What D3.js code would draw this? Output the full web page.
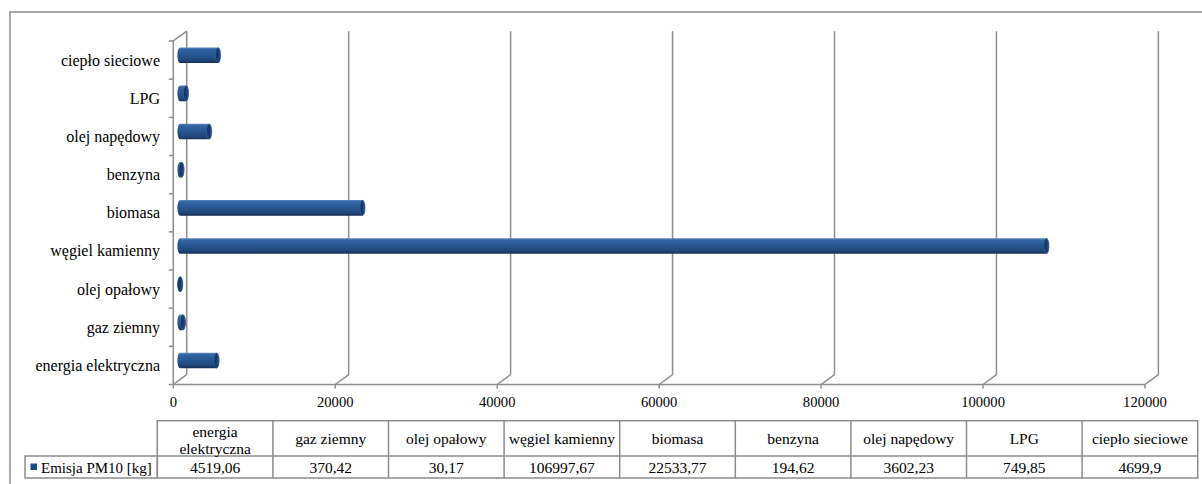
<!DOCTYPE html>
<html>
<head>
<meta charset="utf-8">
<script src="https://cdn.jsdelivr.net/npm/d3@7"></script>
<style>
  html, body { margin: 0; padding: 0; background: #fff; }
  svg { display: block; }
  text { font-family: "Liberation Serif", "Times New Roman", serif; fill: #000; }
</style>
</head>
<body>
<svg id="chart" width="1202" height="484"></svg>
<script>
// Emisja PM10 by energy carrier
const categories = ["energia elektryczna", "gaz ziemny", "olej opałowy", "węgiel kamienny",
                    "biomasa", "benzyna", "olej napędowy", "LPG", "ciepło sieciowe"];
const values = [4519.06, 370.42, 30.17, 106997.67, 22533.77, 194.62, 3602.23, 749.85, 4699.9];
const tickValues = [0, 20000, 40000, 60000, 80000, 100000, 120000];
const seriesName = "Emisja PM10 [kg]";

const svg = d3.select("#chart");
const gridColor = "#8e8e8e";
const barColor = "#1f4a82";

// outer frame
svg.append("rect")
  .attr("x", 10).attr("y", 12).attr("width", 1220).attr("height", 500)
  .attr("fill", "none").attr("stroke", "#a8a8a8").attr("stroke-width", 2);

// 3D plot geometry: front plane and depth offset to the back wall
const depth = { dx: 13.4, dy: -9.8 };
const x = d3.scaleLinear().domain([0, 120000]).range([173.3, 1145]);
const y = d3.scaleBand().domain(categories).range([384.5, 41]).paddingInner(0).paddingOuter(0);
const front = { top: 41, bottom: 384.5 };

const defs = svg.append("defs");
const bodyGrad = defs.append("linearGradient").attr("id", "cylBody")
  .attr("x1", 0).attr("y1", 0).attr("x2", 0).attr("y2", 1);
[[0, "#5d89c2"], [0.12, "#3465a3"], [0.45, "#285793"], [0.8, "#20487a"], [1, "#142f54"]]
  .forEach(([o, c]) => bodyGrad.append("stop").attr("offset", o).attr("stop-color", c));
const capGrad = defs.append("linearGradient").attr("id", "cylCap")
  .attr("x1", 0).attr("y1", 0).attr("x2", 1).attr("y2", 0);
[[0, "#13305a"], [0.6, "#1c3f6e"], [1, "#2c5a94"]]
  .forEach(([o, c]) => capGrad.append("stop").attr("offset", o).attr("stop-color", c));

const grid = svg.append("g").attr("fill", "none").attr("stroke", gridColor).attr("stroke-width", 1.5);

// back-wall vertical gridlines
grid.selectAll("line.v").data(tickValues).join("line").attr("class", "v")
  .attr("x1", d => x(d) + depth.dx).attr("x2", d => x(d) + depth.dx)
  .attr("y1", front.top + depth.dy).attr("y2", front.bottom + depth.dy);

// floor diagonals from front ticks to the back wall
grid.selectAll("line.d").data(tickValues).join("line").attr("class", "d")
  .attr("x1", d => x(d)).attr("y1", front.bottom)
  .attr("x2", d => x(d) + depth.dx).attr("y2", front.bottom + depth.dy);

// small ticks below the value axis
grid.selectAll("line.t").data(tickValues).join("line").attr("class", "t")
  .attr("x1", d => x(d)).attr("x2", d => x(d))
  .attr("y1", front.bottom).attr("y2", front.bottom + 4);

// front value axis line
grid.append("line")
  .attr("x1", x(0)).attr("x2", x(120000)).attr("y1", front.bottom).attr("y2", front.bottom);

// front category axis line with its top diagonal
grid.append("path")
  .attr("d", `M${x(0)},${front.bottom}V${front.top}L${x(0) + depth.dx},${front.top + depth.dy}`);

// category boundary ticks
const boundaries = categories.map(c => y(c) + y.bandwidth()).concat([y(categories[categories.length - 1])]);
grid.selectAll("line.c").data(boundaries).join("line").attr("class", "c")
  .attr("x1", x(0) - 4.5).attr("x2", x(0)).attr("y1", d => d).attr("y2", d => d);

// category labels
svg.append("g").selectAll("text").data(categories).join("text")
  .attr("x", 160).attr("y", d => y(d) + y.bandwidth() / 2)
  .attr("text-anchor", "end").attr("dominant-baseline", "central")
  .attr("font-size", 16).text(d => d);

// value tick labels
svg.append("g").selectAll("text").data(tickValues).join("text")
  .attr("x", d => x(d)).attr("y", 402)
  .attr("text-anchor", "middle").attr("dominant-baseline", "central")
  .attr("font-size", 14.6).text(d => String(d));

// cylinders sit halfway into the depth of the plot
const barH = 15.6, rx = 2.6, ry = barH / 2;
const bars = svg.append("g");
categories.forEach((c, i) => {
  const v = values[i];
  const xs = x(0) + depth.dx / 2;
  const xe = x(v) + depth.dx / 2;
  const cy = y(c) + y.bandwidth() / 2 + depth.dy / 2;
  const top = cy - ry, bot = cy + ry;
  bars.append("path")
    .attr("d", `M${xs},${top}L${xe},${top}A${rx},${ry} 0 0 1 ${xe},${bot}L${xs},${bot}A${rx},${ry} 0 0 1 ${xs},${top}Z`)
    .attr("fill", "url(#cylBody)");
  bars.append("ellipse")
    .attr("cx", xe).attr("cy", cy).attr("rx", rx).attr("ry", ry - 0.3)
    .attr("fill", "url(#cylCap)").attr("stroke", "#3a68a3").attr("stroke-width", 0.6);
});

// data table below the chart
const table = { left: 25, colStart: 157.3, colW: 115.6, top: 420.7, mid: 456, bottom: 478 };
const tbl = svg.append("g");
const cellStroke = "#8c8c8c";
const colX = i => table.colStart + i * table.colW;

tbl.append("rect")
  .attr("x", table.colStart).attr("y", table.top)
  .attr("width", table.colW * categories.length).attr("height", table.bottom - table.top)
  .attr("fill", "none").attr("stroke", cellStroke).attr("stroke-width", 1.5);
tbl.append("rect")
  .attr("x", table.left).attr("y", table.mid)
  .attr("width", table.colStart - table.left).attr("height", table.bottom - table.mid)
  .attr("fill", "none").attr("stroke", cellStroke).attr("stroke-width", 1.5);
tbl.append("line")
  .attr("x1", table.colStart).attr("x2", colX(categories.length))
  .attr("y1", table.mid).attr("y2", table.mid)
  .attr("stroke", cellStroke).attr("stroke-width", 1.5);
tbl.selectAll("line.col").data(d3.range(1, categories.length)).join("line").attr("class", "col")
  .attr("x1", colX).attr("x2", colX).attr("y1", table.top).attr("y2", table.bottom)
  .attr("stroke", cellStroke).attr("stroke-width", 1.5);

// header cells, wrapped onto two lines when too wide
categories.forEach((c, i) => {
  const cx = colX(i) + table.colW / 2;
  const t = tbl.append("text").attr("x", cx).attr("font-size", 15.5)
    .attr("text-anchor", "middle").attr("dominant-baseline", "central");
  t.text(c);
  if (t.node().getComputedTextLength() > table.colW - 4 && c.includes(" ")) {
    const words = c.split(" ");
    t.text(null);
    const lh = 17.6, cyMid = (table.top + table.mid) / 2 + 1;
    words.forEach((w, k) => {
      t.append("tspan").attr("x", cx)
        .attr("y", cyMid + (k - (words.length - 1) / 2) * lh).text(w);
    });
  } else {
    t.attr("y", (table.top + table.mid) / 2 + 0.5);
  }
});

// value row
tbl.selectAll("text.val").data(values).join("text").attr("class", "val")
  .attr("x", (d, i) => colX(i) + table.colW / 2).attr("y", (table.mid + table.bottom) / 2 + 0.5)
  .attr("text-anchor", "middle").attr("dominant-baseline", "central")
  .attr("font-size", 15.5).text(d => String(d).replace(".", ","));

// series key
tbl.append("rect").attr("x", 30.5).attr("y", 463.5).attr("width", 6.5).attr("height", 6.5).attr("fill", barColor);
tbl.append("text").attr("x", 41).attr("y", (table.mid + table.bottom) / 2 + 0.5)
  .attr("dominant-baseline", "central").attr("font-size", 15).text(seriesName);
</script>
</body>
</html>
